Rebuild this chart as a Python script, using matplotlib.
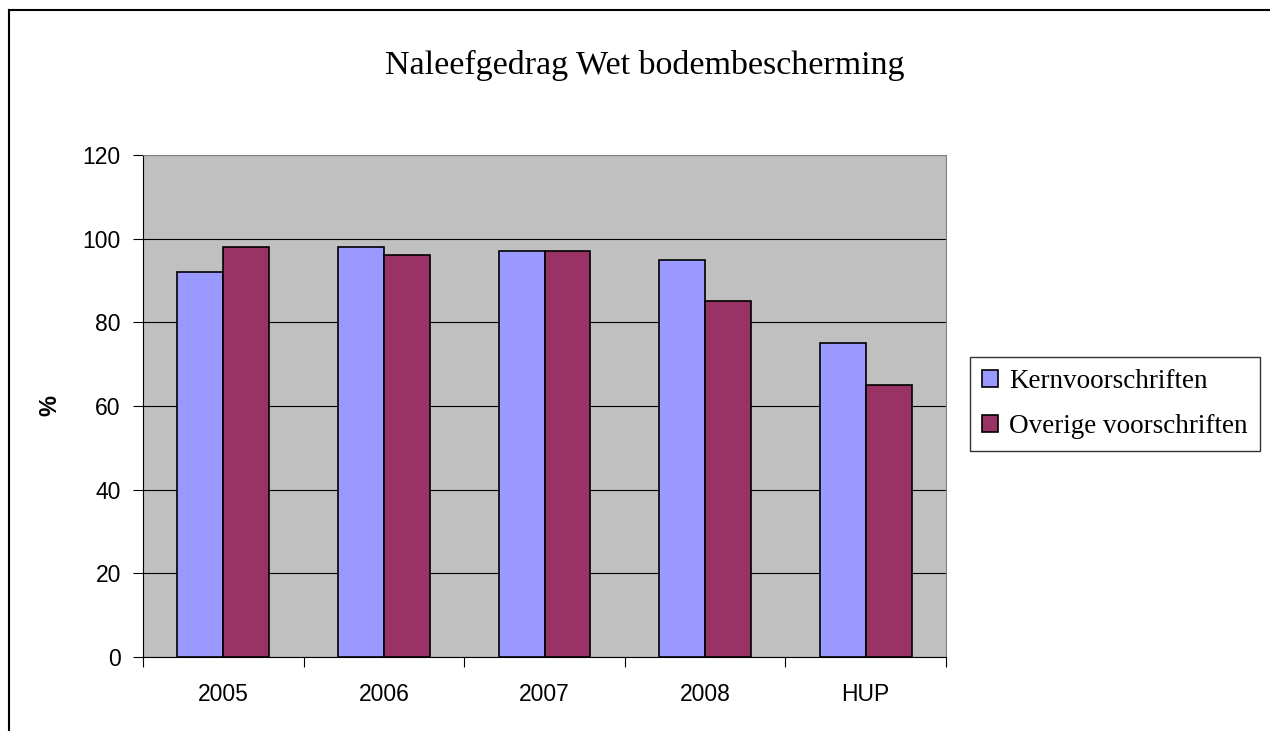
import matplotlib

matplotlib.use("Agg")
import matplotlib.pyplot as plt  # noqa: E402
import numpy as np  # noqa: E402
from matplotlib.lines import Line2D  # noqa: E402

CATEGORIES = ["2005", "2006", "2007", "2008", "HUP"]
KERN = [92, 98, 97, 95, 75]
OVERIGE = [98, 96, 97, 85, 65]
SERIES_LABELS = ["Kernvoorschriften", "Overige voorschriften"]
Y_TICKS = [0, 20, 40, 60, 80, 100, 120]

KERN_COLOR = "#9999ff"
OVERIGE_COLOR = "#993366"
PLOT_BG = "#c0c0c0"
SERIF = ["Liberation Serif", "DejaVu Serif"]
SANS = ["Liberation Sans", "DejaVu Sans"]

fig = plt.figure(figsize=(12.7, 7.31), dpi=100)
ax = fig.add_axes([143 / 1270, 1 - 657 / 731, (946 - 143) / 1270, (657 - 155) / 731])
ax.set_facecolor(PLOT_BG)

x = np.arange(len(CATEGORIES))
w = 1 / 3.5  # Excel gap width 150%
ax.bar(x - w / 2, KERN, w, color=KERN_COLOR, edgecolor="black", linewidth=1.2,
       label=SERIES_LABELS[0], zorder=3)
ax.bar(x + w / 2, OVERIGE, w, color=OVERIGE_COLOR, edgecolor="black", linewidth=1.2,
       label=SERIES_LABELS[1], zorder=3)

ax.set_xlim(-0.5, len(CATEGORIES) - 0.5)
ax.set_ylim(0, 120)
ax.set_yticks(Y_TICKS)
ax.set_yticklabels([str(t) for t in Y_TICKS], fontsize=16.5, family=SANS)
ax.yaxis.grid(True, color="black", linewidth=0.8, zorder=1)
ax.set_axisbelow(True)

# category labels centred, tick marks on the boundaries
ax.set_xticks(np.arange(len(CATEGORIES) + 1) - 0.5)
ax.set_xticklabels([])
ax.set_xticks(x, minor=True)
ax.set_xticklabels(CATEGORIES, minor=True, fontsize=16.5, family=SANS)
ax.tick_params(axis="x", which="minor", length=0, pad=19)
ax.tick_params(axis="x", which="major", length=7, width=0.8, direction="out")
ax.tick_params(axis="y", length=7, width=0.8, direction="out", pad=9)

for side in ("top", "right"):
    ax.spines[side].set_color("#808080")
    ax.spines[side].set_linewidth(0.8)
for side in ("left", "bottom"):
    ax.spines[side].set_color("black")
    ax.spines[side].set_linewidth(0.8)

fig.text(50 / 1270, 1 - 405 / 731, "%", rotation=90, ha="center", va="center",
         fontsize=17, fontweight="bold", family=SANS)

fig.text(645 / 1270, 1 - 65 / 731, "Naleefgedrag Wet bodembescherming",
         ha="center", va="center", fontsize=24.5, family=SERIF)

leg = fig.legend(loc="center left", bbox_to_anchor=(970 / 1270, 1 - 404 / 731),
                 prop={"family": SERIF, "size": 19.5}, frameon=True,
                 fancybox=False, edgecolor="black", handlelength=0.6, handleheight=0.6,
                 handletextpad=0.4, borderpad=0.45, labelspacing=0.75, borderaxespad=0)
leg.get_frame().set_linewidth(1.0)

# outer chart-area border (left and top visible)
fig.add_artist(Line2D([9 / 1270, 9 / 1270], [0, 1 - 10 / 731], color="black", linewidth=1.5,
                      transform=fig.transFigure))
fig.add_artist(Line2D([9 / 1270, 1], [1 - 10 / 731, 1 - 10 / 731], color="black",
                      linewidth=1.5, transform=fig.transFigure))

fig.savefig("out.png", dpi=100)
